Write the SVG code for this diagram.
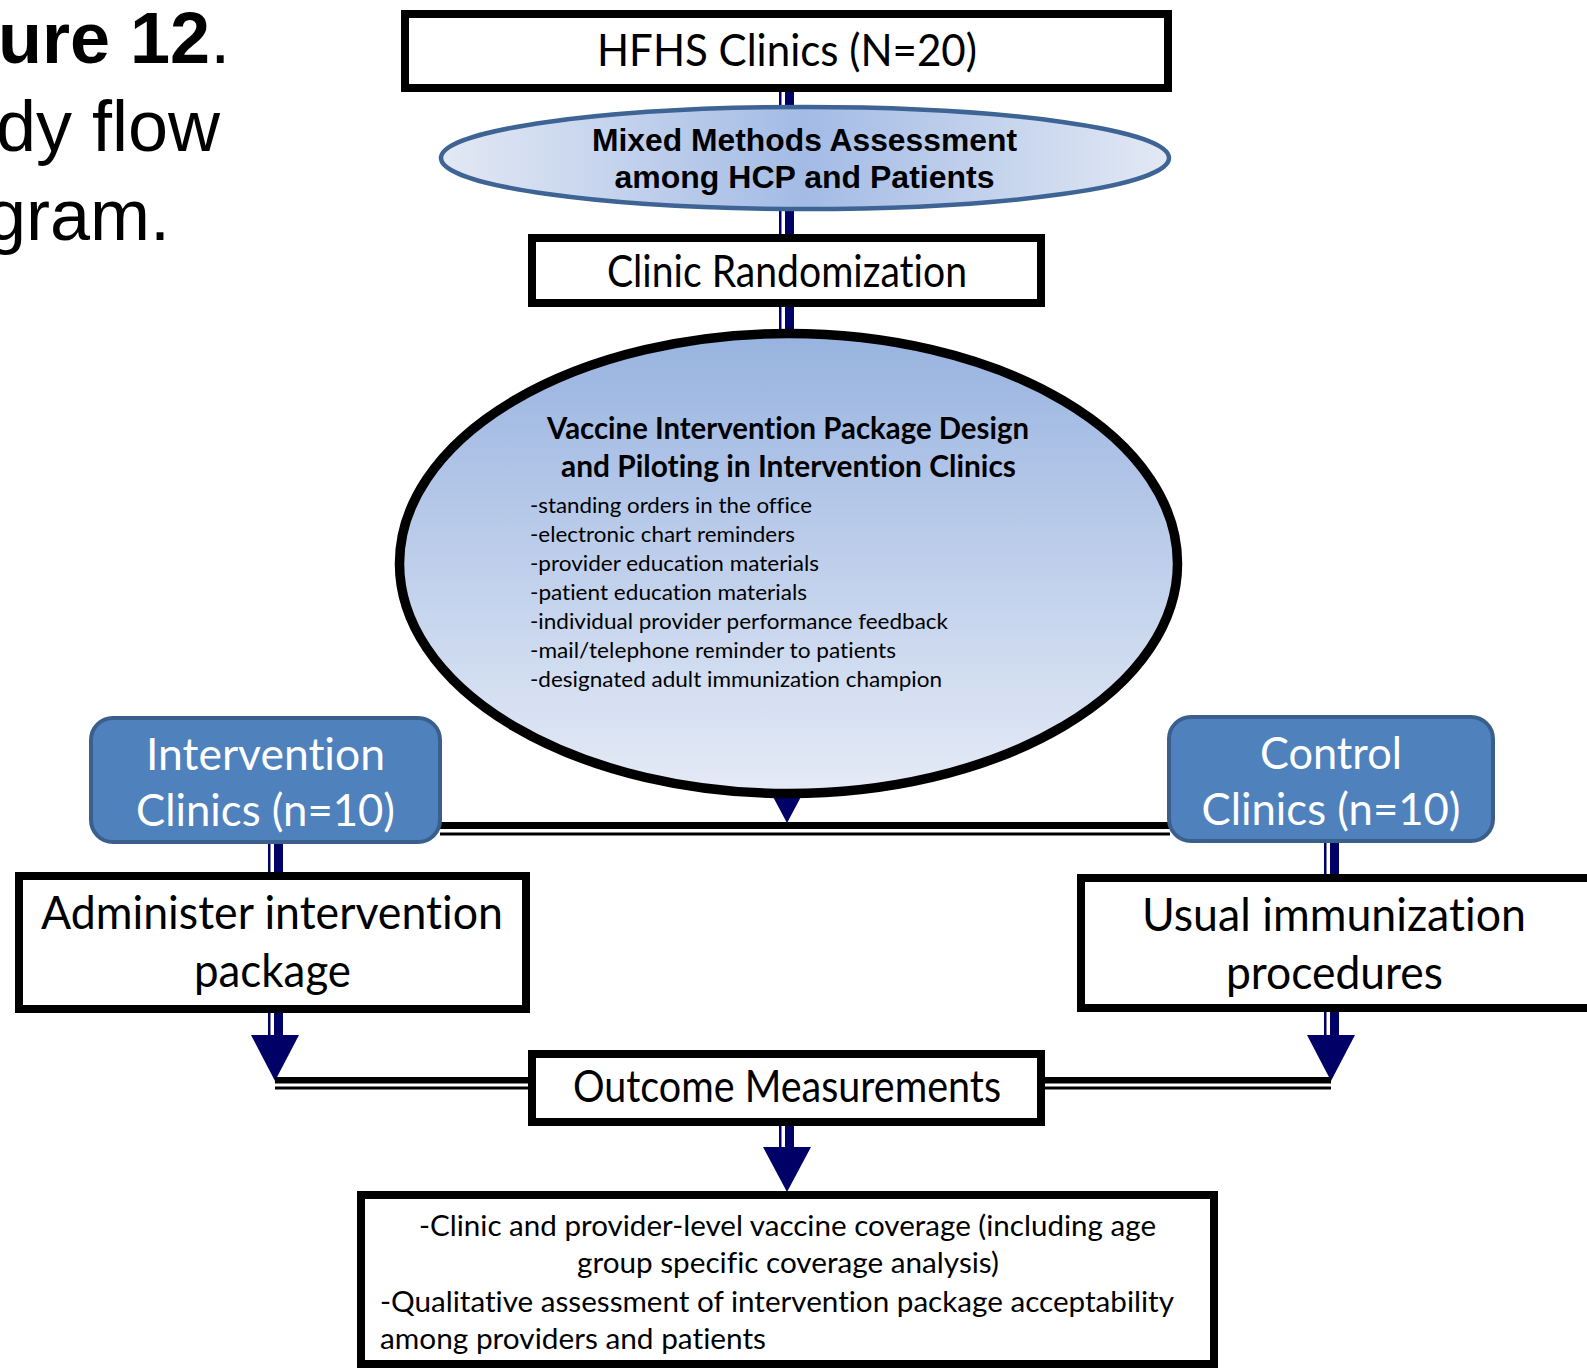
<svg xmlns="http://www.w3.org/2000/svg" width="1587" height="1369" viewBox="0 0 1587 1369">
<defs>
<linearGradient id="gMixed" x1="0" y1="0" x2="1" y2="0">
<stop offset="0" stop-color="#e3e9f4"/>
<stop offset="0.5" stop-color="#a3bbe5"/>
<stop offset="1" stop-color="#e3e9f4"/>
</linearGradient>
<linearGradient id="gBig" x1="0" y1="0" x2="0" y2="1">
<stop offset="0" stop-color="#98b3e0"/>
<stop offset="1" stop-color="#e5ebf6"/>
</linearGradient>
<style>
.box{fill:#fff;stroke:#000;stroke-width:8}
.blue{fill:#4f81bd;stroke:#3a5f8c;stroke-width:4}
.cal{font-family:Lato,"Open Sans","Liberation Sans",sans-serif;fill:#000;font-variant-ligatures:none}
.wt{fill:#fff}
.ar{font-family:"Liberation Sans",Arial,sans-serif;fill:#000}
.thin{stroke:#000066;stroke-width:2.5;fill:none}
.thick{stroke:#000066;stroke-width:9;fill:none}
.head{fill:#000066}
.hk{stroke:#000;stroke-width:7;fill:none}
.hk2{stroke:#000;stroke-width:6.5;fill:none}
.hn{stroke:#000;stroke-width:3;fill:none}
</style>
</defs>

<g id="title">
<text class="ar" x="-2" y="63" font-size="72" font-weight="bold">ure 12<tspan font-weight="normal">.</tspan></text>
<text class="ar" x="-4" y="151" font-size="72">dy flow</text>
<text class="ar" x="-14" y="240" font-size="72">gram.</text>
</g>

<g id="connectors">
<line class="thin" x1="780.25" y1="90" x2="780.25" y2="108"/>
<line class="thick" x1="789.5" y1="90" x2="789.5" y2="108"/>
<line class="thin" x1="780.25" y1="208" x2="780.25" y2="236"/>
<line class="thick" x1="789.5" y1="208" x2="789.5" y2="236"/>
<line class="thin" x1="780.25" y1="305" x2="780.25" y2="780"/>
<line class="thick" x1="789.5" y1="305" x2="789.5" y2="780"/>
<polygon class="head" points="763,778 811,778 787,823"/>
<line class="hk" x1="440" y1="825.5" x2="1170" y2="825.5"/>
<line class="hn" x1="440" y1="834" x2="1170" y2="834"/>
<line class="thin" x1="269.25" y1="840" x2="269.25" y2="874"/>
<line class="thick" x1="278.5" y1="840" x2="278.5" y2="874"/>
<line class="thin" x1="269.25" y1="1010" x2="269.25" y2="1036"/>
<line class="thick" x1="278.5" y1="1010" x2="278.5" y2="1036"/>
<polygon class="head" points="251,1035 299,1035 275,1081"/>
<line class="thin" x1="1325.25" y1="840" x2="1325.25" y2="876"/>
<line class="thick" x1="1334.5" y1="840" x2="1334.5" y2="876"/>
<line class="thin" x1="1325.25" y1="1010" x2="1325.25" y2="1036"/>
<line class="thick" x1="1334.5" y1="1010" x2="1334.5" y2="1036"/>
<polygon class="head" points="1307,1035 1355,1035 1331,1081"/>
<line class="hk2" x1="275" y1="1080.25" x2="532" y2="1080.25"/>
<line class="hn" x1="275" y1="1088" x2="532" y2="1088"/>
<line class="hk2" x1="1041" y1="1080.25" x2="1331" y2="1080.25"/>
<line class="hn" x1="1041" y1="1088" x2="1331" y2="1088"/>
<line class="thin" x1="780.25" y1="1122" x2="780.25" y2="1148"/>
<line class="thick" x1="789.5" y1="1122" x2="789.5" y2="1148"/>
<polygon class="head" points="763,1147 811,1147 787,1192"/>
</g>

<g id="node-hfhs">
<rect class="box" x="405" y="14" width="763" height="74"/>
<text class="cal" x="787" y="66" font-size="44" text-anchor="middle" textLength="380" lengthAdjust="spacingAndGlyphs">HFHS Clinics (N=20)</text>
</g>

<g id="node-mixed">
<ellipse cx="805" cy="158" rx="364" ry="51" fill="url(#gMixed)" stroke="#3d6494" stroke-width="4.5"/>
<text class="ar" x="804.5" y="151" font-size="31.5" font-weight="bold" text-anchor="middle" textLength="425" lengthAdjust="spacingAndGlyphs">Mixed Methods Assessment</text>
<text class="ar" x="804.5" y="188" font-size="31.5" font-weight="bold" text-anchor="middle" textLength="380" lengthAdjust="spacingAndGlyphs">among HCP and Patients</text>
</g>

<g id="node-randomization">
<rect class="box" x="532" y="238" width="509" height="65"/>
<text class="cal" x="787" y="287" font-size="44" text-anchor="middle" textLength="360" lengthAdjust="spacingAndGlyphs">Clinic Randomization</text>
</g>

<g id="node-package">
<ellipse cx="788.5" cy="563.5" rx="389" ry="230" fill="url(#gBig)" stroke="#000" stroke-width="9.5"/>
<text class="cal" x="788" y="439" font-size="30" font-weight="bold" text-anchor="middle" textLength="482" lengthAdjust="spacingAndGlyphs">Vaccine Intervention Package Design</text>
<text class="cal" x="788.5" y="477" font-size="30" font-weight="bold" text-anchor="middle" textLength="455" lengthAdjust="spacingAndGlyphs">and Piloting in Intervention Clinics</text>
<text class="cal" x="530" y="513" font-size="21" textLength="282" lengthAdjust="spacingAndGlyphs">-standing orders in the office</text>
<text class="cal" x="530" y="542" font-size="21" textLength="265" lengthAdjust="spacingAndGlyphs">-electronic chart reminders</text>
<text class="cal" x="530" y="571" font-size="21" textLength="289" lengthAdjust="spacingAndGlyphs">-provider education materials</text>
<text class="cal" x="530" y="600" font-size="21" textLength="277" lengthAdjust="spacingAndGlyphs">-patient education materials</text>
<text class="cal" x="530" y="629" font-size="21" textLength="418" lengthAdjust="spacingAndGlyphs">-individual provider performance feedback</text>
<text class="cal" x="530" y="658" font-size="21" textLength="366" lengthAdjust="spacingAndGlyphs">-mail/telephone reminder to patients</text>
<text class="cal" x="530" y="687" font-size="21" textLength="412" lengthAdjust="spacingAndGlyphs">-designated adult immunization champion</text>
</g>

<g id="node-intervention">
<rect class="blue" x="91" y="718" width="349" height="124" rx="22"/>
<text class="cal wt" x="265.5" y="770" font-size="45" text-anchor="middle" textLength="239" lengthAdjust="spacingAndGlyphs">Intervention</text>
<text class="cal wt" x="265.5" y="826" font-size="45" text-anchor="middle" textLength="259" lengthAdjust="spacingAndGlyphs">Clinics (n=10)</text>
</g>

<g id="node-control">
<rect class="blue" x="1169" y="717" width="324" height="124" rx="22"/>
<text class="cal wt" x="1331" y="769" font-size="45" text-anchor="middle" textLength="142" lengthAdjust="spacingAndGlyphs">Control</text>
<text class="cal wt" x="1331" y="825" font-size="45" text-anchor="middle" textLength="259" lengthAdjust="spacingAndGlyphs">Clinics (n=10)</text>
</g>

<g id="node-administer">
<rect class="box" x="19" y="876" width="507" height="133"/>
<text class="cal" x="272" y="929" font-size="46" text-anchor="middle" textLength="462" lengthAdjust="spacingAndGlyphs">Administer intervention</text>
<text class="cal" x="272.5" y="987" font-size="46" text-anchor="middle" textLength="157" lengthAdjust="spacingAndGlyphs">package</text>
</g>

<g id="node-usual">
<rect class="box" x="1081" y="878" width="512" height="130"/>
<text class="cal" x="1334" y="931" font-size="46" text-anchor="middle" textLength="384" lengthAdjust="spacingAndGlyphs">Usual immunization</text>
<text class="cal" x="1334.5" y="989" font-size="46" text-anchor="middle" textLength="217" lengthAdjust="spacingAndGlyphs">procedures</text>
</g>

<g id="node-outcome">
<rect class="box" x="532" y="1054" width="509" height="68"/>
<text class="cal" x="787" y="1102" font-size="44" text-anchor="middle" textLength="428" lengthAdjust="spacingAndGlyphs">Outcome Measurements</text>
</g>

<g id="node-results">
<rect class="box" x="361" y="1195" width="853" height="169"/>
<text class="cal" x="787.5" y="1236" font-size="29" text-anchor="middle" textLength="737" lengthAdjust="spacingAndGlyphs">-Clinic and provider-level vaccine coverage (including age</text>
<text class="cal" x="788" y="1273" font-size="29" text-anchor="middle" textLength="422" lengthAdjust="spacingAndGlyphs">group specific coverage analysis)</text>
<text class="cal" x="380" y="1312" font-size="29" textLength="794" lengthAdjust="spacingAndGlyphs">-Qualitative assessment of intervention package acceptability</text>
<text class="cal" x="380" y="1349" font-size="29" textLength="386" lengthAdjust="spacingAndGlyphs">among providers and patients</text>
</g>
</svg>
